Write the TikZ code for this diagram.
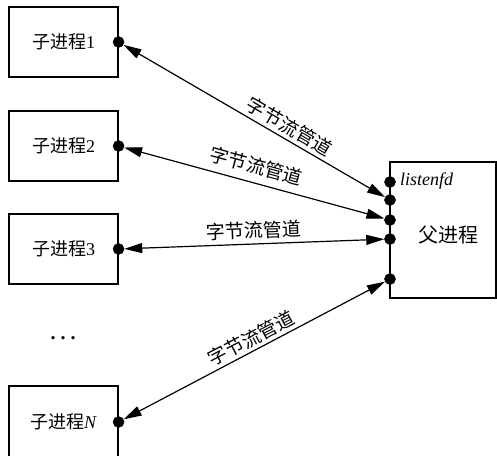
\documentclass[tikz,border=0pt]{standalone}
\usepackage{fontspec}
\setmainfont{Liberation Serif}
\newfontfamily\cjk{Noto Sans CJK SC}
\usetikzlibrary{arrows.meta}
\begin{document}
\begin{tikzpicture}[x=1pt,y=-1pt,
  >={Triangle[length=18pt,width=10pt]},
  box/.style={draw, line width=1.1pt, minimum width=109pt, minimum height=70pt, inner sep=0pt, font=\fontsize{18}{20}\selectfont},
  pdot/.style={circle, fill=black, draw=black, line width=0.5pt, inner sep=0pt, minimum size=11pt},
  pipe/.style={line width=1.2pt, <->},
  lab/.style={font=\fontsize{19}{21}\selectfont\cjk, sloped, inner sep=0pt}]
\useasboundingbox (0,0) rectangle (497,455);
\clip (0,0) rectangle (497,455);
% child boxes
\node[box] (c1) at (63.5,42) {{\cjk 子进程}1};
\node[box] (c2) at (63.5,146) {{\cjk 子进程}2};
\node[box] (c3) at (63.5,249) {{\cjk 子进程}3};
\node[box, minimum height=72pt] (cN) at (63.5,422) {{\cjk 子进程}\textit{N}};
\node[font=\fontsize{20}{22}\selectfont\bfseries, inner sep=0pt] (dd) at (63,338) {.\hspace{5pt}.\hspace{5pt}.};
% parent box
\node[box, minimum width=106pt, minimum height=136pt] (p) at (443,230) {};
\node[font=\fontsize{20}{22}\selectfont\cjk] (pl) at (448,235) {父进程};
% dots
\node[pdot] (d1) at (c1.east) {};
\node[pdot] (d2) at (c2.east) {};
\node[pdot] (d3) at (c3.east) {};
\node[pdot] (dN) at (cN.east) {};
\node[pdot] (q0) at (390,182) {};
\node[pdot] (q1) at (390,200) {};
\node[pdot] (q2) at (390,220) {};
\node[pdot] (q3) at (390,239) {};
\node[pdot] (q4) at (390,279) {};
\node[anchor=west, font=\fontsize{18}{20}\selectfont\itshape, inner sep=0pt] (lf) at (400,181) {listenfd};
% pipes
\draw[pipe] (d1) -- node[lab, pos=0.61, above=3.5pt] {字节流管道} (q1);
\draw[pipe] (d2) -- node[lab, pos=0.49, above=8pt] {字节流管道} (q2);
\draw[pipe] (d3) -- node[lab, pos=0.5, above=4.5pt] {字节流管道} (q3);
\draw[pipe] (dN) -- node[lab, pos=0.51, above=3pt] {字节流管道} (q4);
\end{tikzpicture}
\end{document}
